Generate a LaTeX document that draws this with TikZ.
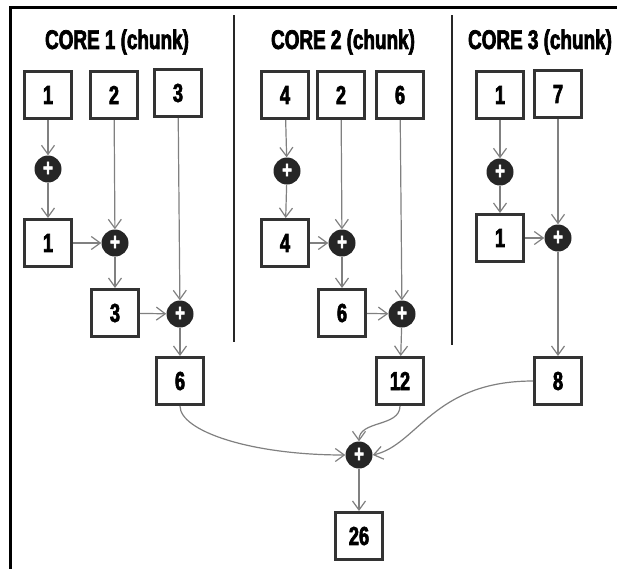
\documentclass[tikz,border=0pt]{standalone}
\usepackage{fontspec}
\setmainfont{Liberation Sans}[FakeStretch=0.7, BoldFeatures={FakeBold=2.5}]
\usetikzlibrary{arrows.meta}

\begin{document}
\begin{tikzpicture}[
    x=1pt, y=1pt,
    num/.style={draw=black!80, line width=3pt, fill=white, minimum size=47pt,
                inner sep=0pt, font=\fontsize{26}{26}\selectfont\bfseries},
    sum/.style={circle, fill=black!85, minimum size=27pt, inner sep=0pt,
                text=white, font=\fontsize{24}{24}\selectfont\bfseries},
    title/.style={font=\fontsize{27}{27}\selectfont\bfseries},
    arrow/.style={-{Straight Barb[length=9pt,width=13pt]}, draw=black!50, line width=1.2pt},
    divider/.style={draw=black!85, line width=2pt},
]
\useasboundingbox (0,0) rectangle (617,-568);
\draw[line width=3pt] (10,-570) -- (10,-7) -- (620,-7);

% titles and dividers
\node[title] (t1) at (117,-42) {CORE 1 (chunk)};
\node[title] (t2) at (343,-42) {CORE 2 (chunk)};
\node[title] (t3) at (540,-42) {CORE 3 (chunk)};
\draw[divider] (234,-15) -- (234,-342);
\draw[divider] (452,-15) -- (452,-345);

% core 1
\node[num] (a1)   at (48,-95)   {1};
\node[num] (a2)   at (114,-95)  {2};
\node[num] (a3)   at (178,-93)  {3};
\node[sum] (ap1)  at (48,-169)  {+};
\node[num] (ab1)  at (48,-243)  {1};
\node[sum] (ap2)  at (115,-243) {+};
\node[num] (ab2)  at (115,-313) {3};
\node[sum] (ap3)  at (180,-314) {+};
\node[num] (ares) at (180,-381) {6};

% core 2
\node[num] (b1)   at (285,-95)  {4};
\node[num] (b2)   at (341,-95)  {2};
\node[num] (b3)   at (400,-95)  {6};
\node[sum] (bp1)  at (287,-171) {+};
\node[num] (bb1)  at (285,-243) {4};
\node[sum] (bp2)  at (342,-243) {+};
\node[num] (bb2)  at (342,-313) {6};
\node[sum] (bp3)  at (402,-314) {+};
\node[num] (bres) at (400,-381) {12};

% core 3
\node[num] (c1)   at (500,-95)  {1};
\node[num] (c2)   at (558,-94)  {7};
\node[sum] (cp1)  at (500,-172) {+};
\node[num] (cb1)  at (500,-238) {1};
\node[sum] (cp2)  at (558,-238) {+};
\node[num] (cres) at (558,-381) {8};

% final sum
\node[sum] (tot)  at (359,-455) {+};
\node[num] (out)  at (359,-536) {26};

\draw[arrow] (a1)  -- (ap1);
\draw[arrow] (ap1) -- (ab1);
\draw[arrow] (ab1) -- (ap2);
\draw[arrow] (a2)  -- (ap2);
\draw[arrow] (ap2) -- (ab2);
\draw[arrow] (ab2) -- (ap3);
\draw[arrow] (a3)  -- (ap3);
\draw[arrow] (ap3) -- (ares);

\draw[arrow] (b1)  -- (bp1);
\draw[arrow] (bp1) -- (bb1);
\draw[arrow] (bb1) -- (bp2);
\draw[arrow] (b2)  -- (bp2);
\draw[arrow] (bp2) -- (bb2);
\draw[arrow] (bb2) -- (bp3);
\draw[arrow] (b3)  -- (bp3);
\draw[arrow] (bp3) -- (bres);

\draw[arrow] (c1)  -- (cp1);
\draw[arrow] (cp1) -- (cb1);
\draw[arrow] (cb1) -- (cp2);
\draw[arrow] (c2)  -- (cp2);
\draw[arrow] (cp2) -- (cres);

\draw[arrow] (ares.south) .. controls +(0,-25) and +(-95,0) .. (tot.west);
\draw[arrow] (bres.south) to[out=-90,in=90] (tot.north);
\draw[arrow] (cres.west) .. controls +(-100,0) and +(45,10) .. (tot.east);
\draw[arrow] (tot) -- (out);
\end{tikzpicture}
\end{document}
